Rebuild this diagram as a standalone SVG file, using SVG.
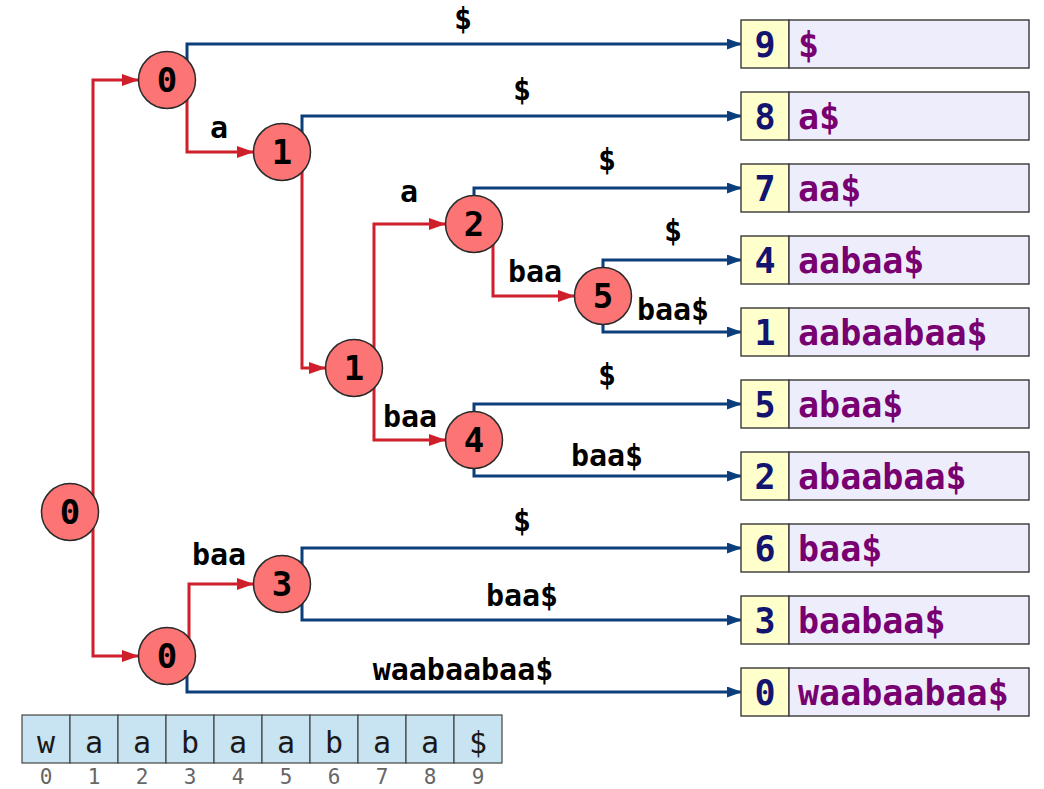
<svg xmlns="http://www.w3.org/2000/svg" width="1044" height="789" viewBox="0 0 1044 789">
<style>
.red{fill:none;stroke:#cf1f2a;stroke-width:3;marker-end:url(#ar)}
.blue{fill:none;stroke:#0b3e7a;stroke-width:3;marker-end:url(#ab)}
.node circle{fill:#fc7474;stroke:#2a2a2a;stroke-width:1.5}
.node text{font-family:"DejaVu Sans Mono",monospace;font-weight:bold;font-size:34px;text-anchor:middle;fill:#000}
.lbl{font-family:"DejaVu Sans Mono",monospace;font-weight:bold;font-size:30px;text-anchor:middle;fill:#000}
.ib{fill:#ffffcc;stroke:#444;stroke-width:1.5}
.sb{fill:#ededfb;stroke:#444;stroke-width:1.5}
.it{font-family:"DejaVu Sans Mono",monospace;font-weight:bold;font-size:35px;text-anchor:middle;fill:#121470}
.st{font-family:"DejaVu Sans Mono",monospace;font-weight:bold;font-size:35px;fill:#780070}
.cell{fill:#c8e3f1;stroke:#444;stroke-width:1.2}
.ct{font-family:"DejaVu Sans Mono",monospace;font-size:30px;text-anchor:middle;fill:#1a1a1a}
.nt{font-family:"DejaVu Sans Mono",monospace;font-size:21px;text-anchor:middle;fill:#666}
</style>
<defs>
<marker id="ar" markerUnits="userSpaceOnUse" markerWidth="17" markerHeight="12" refX="16" refY="6" orient="auto"><path d="M0,0 L17,6 L0,12 z" fill="#cf1f2a"/></marker>
<marker id="ab" markerUnits="userSpaceOnUse" markerWidth="15" markerHeight="11" refX="14" refY="5.5" orient="auto"><path d="M0,0 L15,5.5 L0,11 z" fill="#0b3e7a"/></marker>
</defs>
<g id="connectors">
<path class="red" d="M93,512 V80 H138"/>
<path class="red" d="M93,512 V656 H138"/>
<path class="red" d="M187,80 V152 H253"/>
<path class="red" d="M302,152 V368 H325"/>
<path class="red" d="M374,368 V224 H445"/>
<path class="red" d="M374,368 V440 H445"/>
<path class="red" d="M493,224 V296 H574"/>
<path class="red" d="M189,656 V584 H253"/>
<path class="blue" d="M187,80 V44 H741"/>
<path class="blue" d="M302,152 V116 H741"/>
<path class="blue" d="M474,224 V188 H741"/>
<path class="blue" d="M603,296 V260 H741"/>
<path class="blue" d="M603,296 V332 H741"/>
<path class="blue" d="M474,440 V404 H741"/>
<path class="blue" d="M474,440 V476 H741"/>
<path class="blue" d="M302,584 V548 H741"/>
<path class="blue" d="M302,584 V620 H741"/>
<path class="blue" d="M187,656 V692 H741"/>
<text class="lbl" x="463" y="29">$</text>
<text class="lbl" x="219" y="138">a</text>
<text class="lbl" x="522" y="100">$</text>
<text class="lbl" x="409" y="202">a</text>
<text class="lbl" x="607" y="170">$</text>
<text class="lbl" x="535" y="282">baa</text>
<text class="lbl" x="673" y="241">$</text>
<text class="lbl" x="673" y="320">baa$</text>
<text class="lbl" x="410" y="427">baa</text>
<text class="lbl" x="607" y="385">$</text>
<text class="lbl" x="607" y="466">baa$</text>
<text class="lbl" x="219" y="565">baa</text>
<text class="lbl" x="522" y="531">$</text>
<text class="lbl" x="522" y="606">baa$</text>
<text class="lbl" x="463" y="680">waabaabaa$</text>
</g>
<g id="n_root" class="node"><circle cx="70" cy="512" r="28.5"/><text x="70" y="524">0</text></g>
<g id="n_0a" class="node"><circle cx="167" cy="80" r="28.5"/><text x="167" y="92">0</text></g>
<g id="n_1a" class="node"><circle cx="282" cy="152" r="28.5"/><text x="282" y="164">1</text></g>
<g id="n_1b" class="node"><circle cx="354" cy="368" r="28.5"/><text x="354" y="380">1</text></g>
<g id="n_2" class="node"><circle cx="474" cy="224" r="28.5"/><text x="474" y="236">2</text></g>
<g id="n_5" class="node"><circle cx="603" cy="296" r="28.5"/><text x="603" y="308">5</text></g>
<g id="n_4" class="node"><circle cx="474" cy="440" r="28.5"/><text x="474" y="452">4</text></g>
<g id="n_3" class="node"><circle cx="282" cy="584" r="28.5"/><text x="282" y="596">3</text></g>
<g id="n_0b" class="node"><circle cx="167" cy="656" r="28.5"/><text x="167" y="668">0</text></g>
<g id="leaf9"><rect class="ib" x="741" y="20" width="48" height="48"/><rect class="sb" x="789" y="20" width="240" height="48"/><text class="it" x="765" y="57">9</text><text class="st" x="798" y="57">$</text></g>
<g id="leaf8"><rect class="ib" x="741" y="92" width="48" height="48"/><rect class="sb" x="789" y="92" width="240" height="48"/><text class="it" x="765" y="129">8</text><text class="st" x="798" y="129">a$</text></g>
<g id="leaf7"><rect class="ib" x="741" y="164" width="48" height="48"/><rect class="sb" x="789" y="164" width="240" height="48"/><text class="it" x="765" y="201">7</text><text class="st" x="798" y="201">aa$</text></g>
<g id="leaf4"><rect class="ib" x="741" y="236" width="48" height="48"/><rect class="sb" x="789" y="236" width="240" height="48"/><text class="it" x="765" y="273">4</text><text class="st" x="798" y="273">aabaa$</text></g>
<g id="leaf1"><rect class="ib" x="741" y="308" width="48" height="48"/><rect class="sb" x="789" y="308" width="240" height="48"/><text class="it" x="765" y="345">1</text><text class="st" x="798" y="345">aabaabaa$</text></g>
<g id="leaf5"><rect class="ib" x="741" y="380" width="48" height="48"/><rect class="sb" x="789" y="380" width="240" height="48"/><text class="it" x="765" y="417">5</text><text class="st" x="798" y="417">abaa$</text></g>
<g id="leaf2"><rect class="ib" x="741" y="452" width="48" height="48"/><rect class="sb" x="789" y="452" width="240" height="48"/><text class="it" x="765" y="489">2</text><text class="st" x="798" y="489">abaabaa$</text></g>
<g id="leaf6"><rect class="ib" x="741" y="524" width="48" height="48"/><rect class="sb" x="789" y="524" width="240" height="48"/><text class="it" x="765" y="561">6</text><text class="st" x="798" y="561">baa$</text></g>
<g id="leaf3"><rect class="ib" x="741" y="596" width="48" height="48"/><rect class="sb" x="789" y="596" width="240" height="48"/><text class="it" x="765" y="633">3</text><text class="st" x="798" y="633">baabaa$</text></g>
<g id="leaf0"><rect class="ib" x="741" y="668" width="48" height="48"/><rect class="sb" x="789" y="668" width="240" height="48"/><text class="it" x="765" y="705">0</text><text class="st" x="798" y="705">waabaabaa$</text></g>
<g id="string">
<rect class="cell" x="22" y="715" width="48" height="48"/>
<rect class="cell" x="70" y="715" width="48" height="48"/>
<rect class="cell" x="118" y="715" width="48" height="48"/>
<rect class="cell" x="166" y="715" width="48" height="48"/>
<rect class="cell" x="214" y="715" width="48" height="48"/>
<rect class="cell" x="262" y="715" width="48" height="48"/>
<rect class="cell" x="310" y="715" width="48" height="48"/>
<rect class="cell" x="358" y="715" width="48" height="48"/>
<rect class="cell" x="406" y="715" width="48" height="48"/>
<rect class="cell" x="454" y="715" width="48" height="48"/>
<text class="ct" x="46" y="753">w</text>
<text class="ct" x="94" y="753">a</text>
<text class="ct" x="142" y="753">a</text>
<text class="ct" x="190" y="753">b</text>
<text class="ct" x="238" y="753">a</text>
<text class="ct" x="286" y="753">a</text>
<text class="ct" x="334" y="753">b</text>
<text class="ct" x="382" y="753">a</text>
<text class="ct" x="430" y="753">a</text>
<text class="ct" x="478" y="753">$</text>
<text class="nt" x="46" y="784">0</text>
<text class="nt" x="94" y="784">1</text>
<text class="nt" x="142" y="784">2</text>
<text class="nt" x="190" y="784">3</text>
<text class="nt" x="238" y="784">4</text>
<text class="nt" x="286" y="784">5</text>
<text class="nt" x="334" y="784">6</text>
<text class="nt" x="382" y="784">7</text>
<text class="nt" x="430" y="784">8</text>
<text class="nt" x="478" y="784">9</text>
</g>
</svg>
